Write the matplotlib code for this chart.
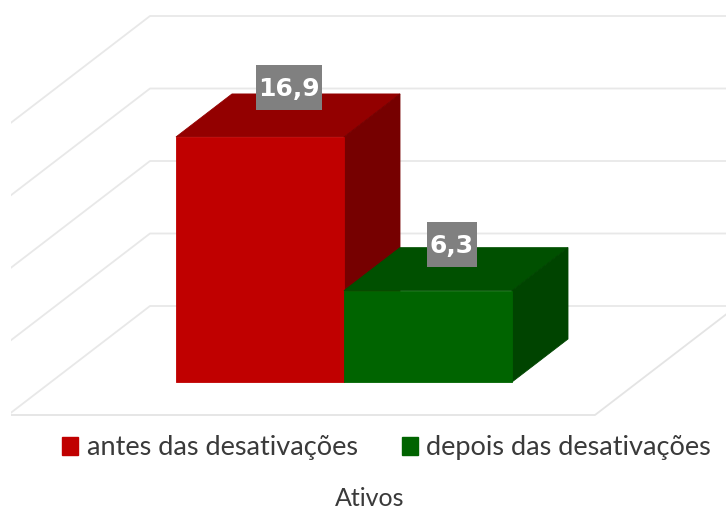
import matplotlib
matplotlib.use('Agg')
import matplotlib.pyplot as plt
from matplotlib.patches import Patch, Rectangle

plt.rcParams['font.family'] = ['Lato', 'DejaVu Sans']

series = ['antes das desativações', 'depois das desativações']
values = [16.9, 6.3]
labels = ['16,9', '6,3']
grid_values = [0, 5, 10, 15, 20]
title = 'Ativos'

front_colors = ['#C00000', '#006400']
top_colors = ['#930000', '#005000']
side_colors = ['#760000', '#004400']

# sizes of one data unit in pixels
PX_X = 168
PX_Y = 14.5

# oblique projection, depth 0 is floor front and depth 1 is the back wall
DX = 142 / PX_X
DY = 109 / PX_Y
BAR_D0 = 33 / 109
BAR_D1 = 76 / 109
BAR_START = 0.744

# label boxes in pixels: width, shift from centre of bar top
box_w = [66, 50]
box_h = 45
box_dx = [1, -4]
box_dy = [28, 25]


def proj(x, y, d):
    return x + d * DX, y + d * DY


def face(ax, corners, color, z):
    pts = [proj(*c) for c in corners]
    ax.fill([p[0] for p in pts], [p[1] for p in pts], fc=color, ec=color, lw=0.6, zorder=z)


fig = plt.figure(figsize=(7.26, 5.09), dpi=100)
ax = fig.add_axes([11 / 726, 0, 715 / 726, 1])
ax.set_xlim(3 / PX_X, 718 / PX_X)
ax.set_ylim(-94 / PX_Y, 415 / PX_Y)
ax.axis('off')

floor_w = 587 / PX_X
for v in grid_values:
    pts = [proj(0, v, 0), proj(0, v, 1), proj(floor_w, v, 1)]
    ax.plot([p[0] for p in pts], [p[1] for p in pts], color='#E8E8E8', lw=1.3, zorder=1)
pts = [proj(floor_w, 0, 1), proj(floor_w, 0, 0), proj(0, 0, 0)]
ax.plot([p[0] for p in pts], [p[1] for p in pts], color='#E4E4E4', lw=1.3, zorder=1)

for i, v in enumerate(values):
    x0 = BAR_START + i
    x1 = x0 + 1
    z = 3 + i
    face(ax, [(x0, v, BAR_D0), (x1, v, BAR_D0), (x1, v, BAR_D1), (x0, v, BAR_D1)], top_colors[i], z)
    face(ax, [(x1, 0, BAR_D0), (x1, 0, BAR_D1), (x1, v, BAR_D1), (x1, v, BAR_D0)], side_colors[i], z)
    face(ax, [(x0, 0, BAR_D0), (x1, 0, BAR_D0), (x1, v, BAR_D0), (x0, v, BAR_D0)], front_colors[i], z)

for i, v in enumerate(values):
    cx, cy = proj(BAR_START + i + 0.5, v, (BAR_D0 + BAR_D1) / 2)
    cx += box_dx[i] / PX_X
    cy += box_dy[i] / PX_Y
    ax.add_patch(Rectangle((cx - box_w[i] / 2 / PX_X, cy - box_h / 2 / PX_Y), box_w[i] / PX_X, box_h / PX_Y,
                           fc='#808080', ec='none', zorder=6))
    ax.text(cx, cy - 1.5 / PX_Y, labels[i], ha='center', va='center', color='white', fontsize=18, fontweight='bold',
            family='DejaVu Sans', zorder=7)

handles = [Patch(color=front_colors[i], label=series[i]) for i in range(2)]
fig.legend(handles=handles, ncol=2, loc='center', bbox_to_anchor=(386.5 / 726, 1 - 448 / 509), frameon=False,
           fontsize=19.5, labelcolor='#3A3A3A', handlelength=0.6, handleheight=0.6, handletextpad=0.3,
           columnspacing=1.63, borderpad=0, borderaxespad=0)
fig.text(369.5 / 726, 1 - 498 / 509, title, ha='center', va='center', fontsize=18, color='#3A3A3A')

fig.savefig('out.png', dpi=100)
